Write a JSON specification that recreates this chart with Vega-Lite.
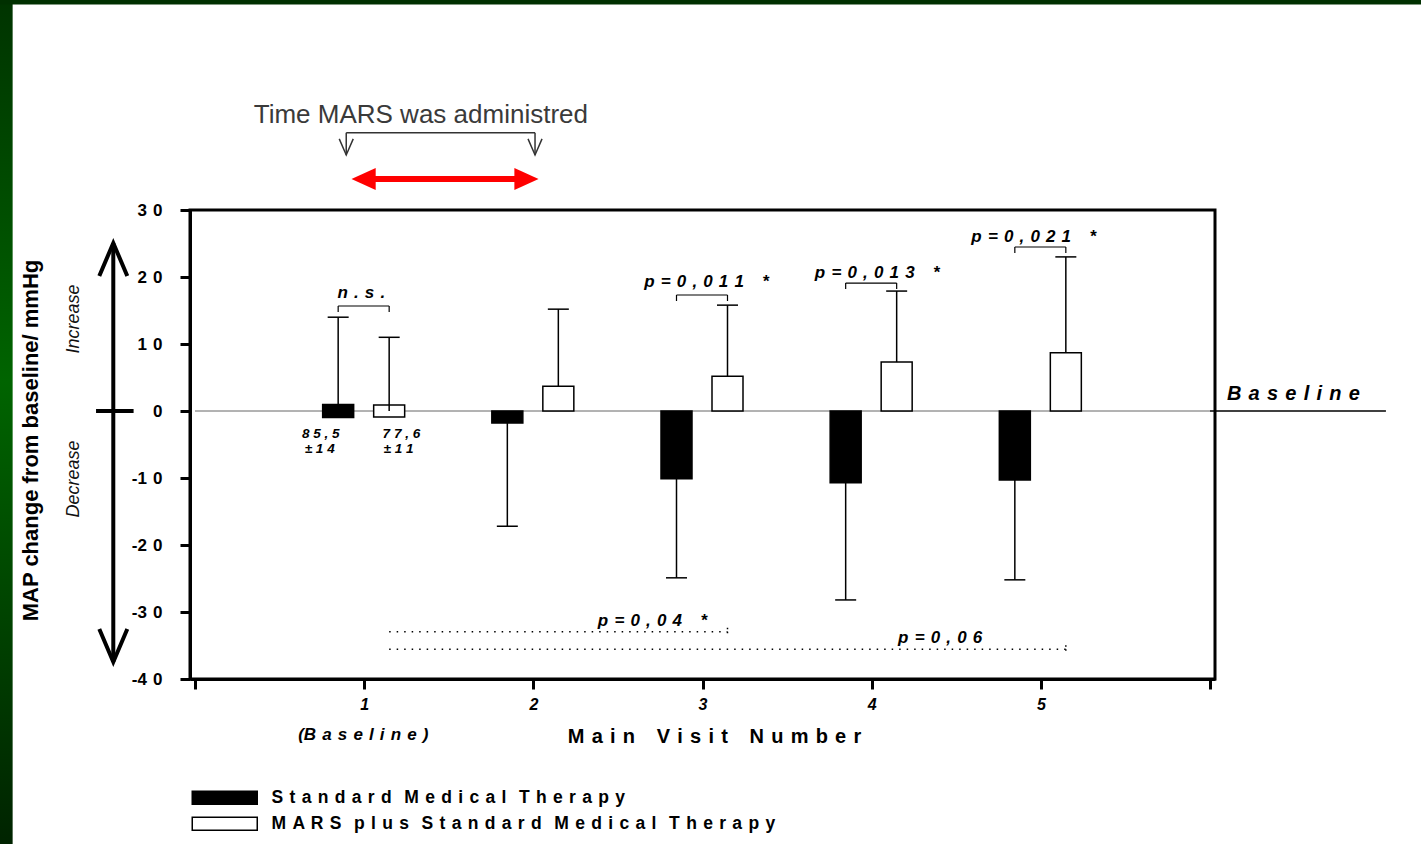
{
  "$schema": "https://vega.github.io/schema/vega-lite/v6.json",
  "width": 1025,
  "height": 469,
  "autosize": {"type": "none"},
  "padding": {"left": 190, "top": 210, "right": 206, "bottom": 165},
  "background": "#ffffff",
  "config": {
    "font": "Liberation Sans",
    "view": {"stroke": "#000000", "strokeWidth": 3}
  },
  "datasets": {
    "visits": [
      {"visit": 1, "group": "Standard Medical Therapy", "mean": 0, "err": 14},
      {"visit": 2, "group": "Standard Medical Therapy", "mean": -1.8, "err": -17.2},
      {"visit": 3, "group": "Standard Medical Therapy", "mean": -10.1, "err": -24.9},
      {"visit": 4, "group": "Standard Medical Therapy", "mean": -10.7, "err": -28.2},
      {"visit": 5, "group": "Standard Medical Therapy", "mean": -10.3, "err": -25.2},
      {"visit": 1, "group": "MARS plus Standard Medical Therapy", "mean": 0, "err": 11},
      {"visit": 2, "group": "MARS plus Standard Medical Therapy", "mean": 3.7, "err": 15.2},
      {"visit": 3, "group": "MARS plus Standard Medical Therapy", "mean": 5.2, "err": 15.8},
      {"visit": 4, "group": "MARS plus Standard Medical Therapy", "mean": 7.3, "err": 17.9},
      {"visit": 5, "group": "MARS plus Standard Medical Therapy", "mean": 8.7, "err": 23.0}
    ],
    "brackets": [
      {"visit": 1, "level": 15.67},
      {"visit": 3, "level": 17.31},
      {"visit": 4, "level": 19.1},
      {"visit": 5, "level": 24.48}
    ],
    "trends": [
      {"from": 1, "to": 3, "level": -32.94},
      {"from": 1, "to": 5, "level": -35.57}
    ]
  },
  "layer": [
    {
      "data": {"values": [{}]},
      "mark": {"type": "rect", "color": {"gradient": "linear", "x1": 0, "y1": 0, "x2": 0, "y2": 1, "stops": [{"offset": 0, "color": "#003300"}, {"offset": 0.45, "color": "#006400"}, {"offset": 1, "color": "#002200"}]}},
      "encoding": {"x": {"datum": -1.2}, "x2": {"datum": -1.078}, "y": {"datum": 62}, "y2": {"datum": -66}}
    },
    {
      "data": {"values": [{}]},
      "mark": {"type": "rect", "color": "#003000"},
      "encoding": {"x": {"datum": -1.2}, "x2": {"datum": 7.5}, "y": {"datum": 62}, "y2": {"datum": 60.67}}
    },
    {
      "data": {"values": [{}]},
      "mark": {"type": "rule", "color": "#666666", "strokeWidth": 1},
      "encoding": {"x": {"datum": 0}, "x2": {"datum": 6}, "y": {"datum": 0}}
    },
    {
      "data": {"values": [{}]},
      "mark": {"type": "rule", "color": "#000000", "strokeWidth": 1.5},
      "encoding": {"x": {"datum": 6}, "x2": {"datum": 7.04}, "y": {"datum": 0}}
    },
    {
      "data": {"name": "visits"},
      "transform": [{"filter": "datum.visit > 1 && datum.group == 'Standard Medical Therapy'"}],
      "mark": {"type": "bar", "orient": "vertical", "width": 31, "xOffset": -26, "stroke": "#000000", "strokeWidth": 1.5},
      "encoding": {
        "x": {
          "field": "visit", "type": "quantitative",
          "scale": {"domain": [0, 6], "nice": false, "zero": false},
          "axis": {
            "values": [0, 1, 2, 3, 4, 5, 6],
            "labelExpr": "datum.value >= 1 && datum.value <= 5 ? toString(datum.value) : ''",
            "grid": false, "domainWidth": 3, "domainColor": "#000000",
            "tickWidth": 3, "tickSize": 10, "tickColor": "#000000",
            "labelFontSize": 16, "labelFontWeight": "bold", "labelFontStyle": "italic", "labelColor": "#000000", "labelPadding": 7,
            "title": "M \u200aa \u200ai \u200an \u200a \u200a \u200aV \u200ai \u200as \u200ai \u200at \u200a \u200a \u200aN \u200au \u200am \u200ab \u200ae \u200ar",
            "titleFontSize": 20, "titleFontWeight": "bold", "titleColor": "#000000",
            "titleX": 524, "titleY": 63, "titleAlign": "center", "titleBaseline": "alphabetic"
          }
        },
        "y": {
          "field": "mean", "type": "quantitative",
          "scale": {"domain": [-40, 30], "nice": false},
          "axis": {
            "values": [-40, -30, -20, -10, 0, 10, 20, 30],
            "labelExpr": "(datum.value < 0 ? '-' : '') + join(split(toString(abs(datum.value)), ''), ' \u200a')",
            "grid": false, "domainWidth": 3, "domainColor": "#000000",
            "tickWidth": 3, "tickSize": 10, "tickColor": "#000000",
            "labelFontSize": 17, "labelFontWeight": "bold", "labelColor": "#000000", "labelPadding": 18,
            "title": "MAP change from baseline/ mmHg",
            "titleFontSize": 22, "titleFontWeight": "bold", "titleColor": "#000000",
            "titleAngle": 270, "titleX": -153, "titleY": 230, "titleAlign": "center", "titleBaseline": "alphabetic"
          }
        },
        "fill": {
          "field": "group", "type": "nominal",
          "scale": {"domain": ["Standard Medical Therapy", "MARS plus Standard Medical Therapy"], "range": ["#000000", "#ffffff"]},
          "legend": {
            "title": null, "orient": "none", "legendX": 0, "legendY": 579, "direction": "vertical", "padding": 0,
            "symbolType": "M-1,-1H9V1H-1Z", "symbolSize": 169,
            "symbolStrokeColor": "#000000", "symbolStrokeWidth": 1.5,
            "labelFontSize": 17.5, "labelFontWeight": "bold", "labelColor": "#000000", "labelOffset": 64, "labelLimit": 800,
            "rowPadding": 6,
            "labelExpr": "join(split(datum.label, ''), ' \u200a')"
          }
        }
      }
    },
    {
      "data": {"name": "visits"},
      "transform": [{"filter": "datum.visit > 1 && datum.group != 'Standard Medical Therapy'"}],
      "mark": {"type": "bar", "orient": "vertical", "width": 31, "xOffset": 25, "stroke": "#000000", "strokeWidth": 1.5},
      "encoding": {
        "x": {"field": "visit", "type": "quantitative"},
        "y": {"field": "mean", "type": "quantitative"},
        "fill": {"field": "group", "type": "nominal"}
      }
    },
    {
      "data": {"name": "visits"},
      "transform": [{"filter": "datum.visit == 1 && datum.group == 'Standard Medical Therapy'"}],
      "mark": {"type": "tick", "orient": "horizontal", "thickness": 13, "size": 31, "xOffset": -26, "stroke": "#000000", "strokeWidth": 1.5, "opacity": 1},
      "encoding": {
        "x": {"field": "visit", "type": "quantitative"},
        "y": {"field": "mean", "type": "quantitative"},
        "fill": {"field": "group", "type": "nominal"}
      }
    },
    {
      "data": {"name": "visits"},
      "transform": [{"filter": "datum.visit == 1 && datum.group != 'Standard Medical Therapy'"}],
      "mark": {"type": "tick", "orient": "horizontal", "thickness": 12, "size": 31, "xOffset": 25, "stroke": "#000000", "strokeWidth": 1.5, "opacity": 1},
      "encoding": {
        "x": {"field": "visit", "type": "quantitative"},
        "y": {"field": "mean", "type": "quantitative"},
        "fill": {"field": "group", "type": "nominal"}
      }
    },
    {
      "data": {"name": "visits"},
      "transform": [{"filter": "datum.group == 'Standard Medical Therapy'"}],
      "mark": {"type": "rule", "color": "#000000", "strokeWidth": 1.5, "xOffset": -26},
      "encoding": {
        "x": {"field": "visit", "type": "quantitative"},
        "y": {"field": "mean", "type": "quantitative"},
        "y2": {"field": "err"}
      }
    },
    {
      "data": {"name": "visits"},
      "transform": [{"filter": "datum.group != 'Standard Medical Therapy'"}],
      "mark": {"type": "rule", "color": "#000000", "strokeWidth": 1.5, "xOffset": 25},
      "encoding": {
        "x": {"field": "visit", "type": "quantitative"},
        "y": {"field": "mean", "type": "quantitative"},
        "y2": {"field": "err"}
      }
    },
    {
      "data": {"name": "visits"},
      "transform": [{"filter": "datum.group == 'Standard Medical Therapy'"}],
      "mark": {"type": "tick", "orient": "horizontal", "size": 21, "thickness": 1.5, "xOffset": -26, "color": "#000000", "opacity": 1},
      "encoding": {
        "x": {"field": "visit", "type": "quantitative"},
        "y": {"field": "err", "type": "quantitative"}
      }
    },
    {
      "data": {"name": "visits"},
      "transform": [{"filter": "datum.group != 'Standard Medical Therapy'"}],
      "mark": {"type": "tick", "orient": "horizontal", "size": 21, "thickness": 1.5, "xOffset": 25, "color": "#000000", "opacity": 1},
      "encoding": {
        "x": {"field": "visit", "type": "quantitative"},
        "y": {"field": "err", "type": "quantitative"}
      }
    },
    {
      "data": {"name": "brackets"},
      "mark": {"type": "rule", "color": "#000000", "strokeWidth": 1.2, "xOffset": -26, "x2Offset": 25},
      "encoding": {
        "x": {"field": "visit", "type": "quantitative"},
        "x2": {"field": "visit"},
        "y": {"field": "level", "type": "quantitative"}
      }
    },
    {
      "data": {"name": "brackets"},
      "mark": {"type": "rule", "color": "#000000", "strokeWidth": 1.2, "xOffset": -26, "y2Offset": 6},
      "encoding": {
        "x": {"field": "visit", "type": "quantitative"},
        "y": {"field": "level", "type": "quantitative"},
        "y2": {"field": "level"}
      }
    },
    {
      "data": {"name": "brackets"},
      "mark": {"type": "rule", "color": "#000000", "strokeWidth": 1.2, "xOffset": 25, "y2Offset": 6},
      "encoding": {
        "x": {"field": "visit", "type": "quantitative"},
        "y": {"field": "level", "type": "quantitative"},
        "y2": {"field": "level"}
      }
    },
    {
      "data": {"name": "trends"},
      "mark": {"type": "rule", "color": "#000000", "strokeWidth": 1.5, "strokeDash": [1.5, 6], "xOffset": 25, "x2Offset": 25},
      "encoding": {
        "x": {"field": "from", "type": "quantitative"},
        "x2": {"field": "to"},
        "y": {"field": "level", "type": "quantitative"}
      }
    },
    {
      "data": {"name": "trends"},
      "mark": {"type": "rule", "color": "#000000", "strokeWidth": 1.5, "strokeDash": [1.5, 2.5], "xOffset": 25, "yOffset": -4, "y2Offset": 3},
      "encoding": {
        "x": {"field": "to", "type": "quantitative"},
        "y": {"field": "level", "type": "quantitative"},
        "y2": {"field": "level"}
      }
    },
    {
      "data": {"values": [{}]},
      "mark": {"type": "text", "text": "Time MARS was administred", "fontSize": 26, "color": "#3a3a3a", "align": "center", "baseline": "alphabetic"},
      "encoding": {"x": {"datum": 1.335}, "y": {"datum": 42.99}}
    },
    {
      "data": {"values": [{}]},
      "mark": {"type": "rule", "color": "#333333", "strokeWidth": 1.5},
      "encoding": {"x": {"datum": 0.894}, "x2": {"datum": 2.01}, "y": {"datum": 41.54}}
    },
    {
      "data": {"values": [{}]},
      "mark": {"type": "rule", "color": "#333333", "strokeWidth": 1.5},
      "encoding": {"x": {"datum": 0.894}, "y": {"datum": 41.54}, "y2": {"datum": 38.21}}
    },
    {
      "data": {"values": [{}]},
      "mark": {"type": "rule", "color": "#333333", "strokeWidth": 1.5},
      "encoding": {"x": {"datum": 2.01}, "y": {"datum": 41.54}, "y2": {"datum": 38.21}}
    },
    {
      "data": {"values": [{}]},
      "mark": {"type": "point", "shape": "M-1,-2.3L0,0L1,-2.3", "size": 196, "filled": false, "stroke": "#333333", "strokeWidth": 1.5, "opacity": 1},
      "encoding": {"x": {"datum": 0.894}, "y": {"datum": 38.21}}
    },
    {
      "data": {"values": [{}]},
      "mark": {"type": "point", "shape": "M-1,-2.3L0,0L1,-2.3", "size": 196, "filled": false, "stroke": "#333333", "strokeWidth": 1.5, "opacity": 1},
      "encoding": {"x": {"datum": 2.01}, "y": {"datum": 38.21}}
    },
    {
      "data": {"values": [{}]},
      "mark": {"type": "rule", "color": "#ff0000", "strokeWidth": 6},
      "encoding": {"x": {"datum": 1.0}, "x2": {"datum": 1.96}, "y": {"datum": 34.63}}
    },
    {
      "data": {"values": [{}]},
      "mark": {"type": "point", "shape": "M0,0L2.2,-1L2.2,1Z", "size": 484, "filled": true, "color": "#ff0000", "opacity": 1},
      "encoding": {"x": {"datum": 0.925}, "y": {"datum": 34.63}}
    },
    {
      "data": {"values": [{}]},
      "mark": {"type": "point", "shape": "M0,0L-2.2,-1L-2.2,1Z", "size": 484, "filled": true, "color": "#ff0000", "opacity": 1},
      "encoding": {"x": {"datum": 2.031}, "y": {"datum": 34.63}}
    },
    {
      "data": {"values": [{}]},
      "mark": {"type": "rule", "color": "#000000", "strokeWidth": 4},
      "encoding": {"x": {"datum": -0.483}, "y": {"datum": 25.07}, "y2": {"datum": -37.46}}
    },
    {
      "data": {"values": [{}]},
      "mark": {"type": "rule", "color": "#000000", "strokeWidth": 4},
      "encoding": {"x": {"datum": -0.585}, "x2": {"datum": -0.363}, "y": {"datum": 0}}
    },
    {
      "data": {"values": [{}]},
      "mark": {"type": "point", "shape": "M-1,2.36L0,0L1,2.36", "size": 784, "filled": false, "stroke": "#000000", "strokeWidth": 4, "opacity": 1},
      "encoding": {"x": {"datum": -0.483}, "y": {"datum": 25.07}}
    },
    {
      "data": {"values": [{}]},
      "mark": {"type": "point", "shape": "M-1,-2.36L0,0L1,-2.36", "size": 784, "filled": false, "stroke": "#000000", "strokeWidth": 4, "opacity": 1},
      "encoding": {"x": {"datum": -0.483}, "y": {"datum": -37.46}}
    },
    {
      "data": {"values": [{}]},
      "mark": {"type": "text", "text": "Increase", "fontSize": 18, "fontStyle": "italic", "color": "#111111", "angle": 270, "align": "center", "baseline": "middle"},
      "encoding": {"x": {"datum": -0.717}, "y": {"datum": 13.73}}
    },
    {
      "data": {"values": [{}]},
      "mark": {"type": "text", "text": "Decrease", "fontSize": 18, "fontStyle": "italic", "color": "#111111", "angle": 270, "align": "center", "baseline": "middle"},
      "encoding": {"x": {"datum": -0.717}, "y": {"datum": -10.15}}
    },
    {
      "data": {"values": [{}]},
      "mark": {"type": "text", "text": "B \u200aa \u200as \u200ae \u200al \u200ai \u200an \u200ae", "fontSize": 20, "fontWeight": "bold", "fontStyle": "italic", "color": "#000000", "align": "left", "baseline": "alphabetic"},
      "encoding": {"x": {"datum": 6.1}, "y": {"datum": 1.64}}
    },
    {
      "data": {"values": [{}]},
      "mark": {"type": "text", "text": "(B \u200aa \u200as \u200ae \u200al \u200ai \u200an \u200ae \u200a)", "fontSize": 17, "fontWeight": "bold", "fontStyle": "italic", "color": "#000000", "align": "center", "baseline": "alphabetic"},
      "encoding": {"x": {"datum": 0.995}, "y": {"datum": -49.1}}
    },
    {
      "data": {"values": [{}]},
      "mark": {"type": "text", "text": "n \u200a. \u200as \u200a.", "fontSize": 17, "fontWeight": "bold", "fontStyle": "italic", "color": "#000000", "align": "center", "baseline": "alphabetic"},
      "encoding": {"x": {"datum": 0.983}, "y": {"datum": 16.87}}
    },
    {
      "data": {"values": [{}]},
      "mark": {"type": "text", "text": "p \u200a= \u200a0 \u200a, \u200a0 \u200a1 \u200a1 \u200a \u200a \u200a*", "fontSize": 17, "fontWeight": "bold", "fontStyle": "italic", "color": "#000000", "align": "center", "baseline": "alphabetic"},
      "encoding": {"x": {"datum": 3.024}, "y": {"datum": 18.51}}
    },
    {
      "data": {"values": [{}]},
      "mark": {"type": "text", "text": "p \u200a= \u200a0 \u200a, \u200a0 \u200a1 \u200a3 \u200a \u200a \u200a*", "fontSize": 17, "fontWeight": "bold", "fontStyle": "italic", "color": "#000000", "align": "center", "baseline": "alphabetic"},
      "encoding": {"x": {"datum": 4.033}, "y": {"datum": 19.85}}
    },
    {
      "data": {"values": [{}]},
      "mark": {"type": "text", "text": "p \u200a= \u200a0 \u200a, \u200a0 \u200a2 \u200a1 \u200a \u200a \u200a*", "fontSize": 17, "fontWeight": "bold", "fontStyle": "italic", "color": "#000000", "align": "center", "baseline": "alphabetic"},
      "encoding": {"x": {"datum": 4.958}, "y": {"datum": 25.22}}
    },
    {
      "data": {"values": [{}]},
      "mark": {"type": "text", "text": "p \u200a= \u200a0 \u200a, \u200a0 \u200a4 \u200a \u200a \u200a*", "fontSize": 17, "fontWeight": "bold", "fontStyle": "italic", "color": "#000000", "align": "center", "baseline": "alphabetic"},
      "encoding": {"x": {"datum": 2.704}, "y": {"datum": -32.09}}
    },
    {
      "data": {"values": [{}]},
      "mark": {"type": "text", "text": "p \u200a= \u200a0 \u200a, \u200a0 \u200a6", "fontSize": 17, "fontWeight": "bold", "fontStyle": "italic", "color": "#000000", "align": "center", "baseline": "alphabetic"},
      "encoding": {"x": {"datum": 4.405}, "y": {"datum": -34.63}}
    },
    {
      "data": {"values": [{}]},
      "mark": {"type": "text", "text": "8 5 , 5", "fontSize": 13.5, "fontWeight": "bold", "fontStyle": "italic", "color": "#000000", "align": "center", "baseline": "alphabetic"},
      "encoding": {"x": {"datum": 0.743}, "y": {"datum": -4.03}}
    },
    {
      "data": {"values": [{}]},
      "mark": {"type": "text", "text": "± 1 4", "fontSize": 13.5, "fontWeight": "bold", "fontStyle": "italic", "color": "#000000", "align": "center", "baseline": "alphabetic"},
      "encoding": {"x": {"datum": 0.737}, "y": {"datum": -6.27}}
    },
    {
      "data": {"values": [{}]},
      "mark": {"type": "text", "text": "7 7 , 6", "fontSize": 13.5, "fontWeight": "bold", "fontStyle": "italic", "color": "#000000", "align": "center", "baseline": "alphabetic"},
      "encoding": {"x": {"datum": 1.22}, "y": {"datum": -4.03}}
    },
    {
      "data": {"values": [{}]},
      "mark": {"type": "text", "text": "± 1 1", "fontSize": 13.5, "fontWeight": "bold", "fontStyle": "italic", "color": "#000000", "align": "center", "baseline": "alphabetic"},
      "encoding": {"x": {"datum": 1.203}, "y": {"datum": -6.27}}
    }
  ]
}
